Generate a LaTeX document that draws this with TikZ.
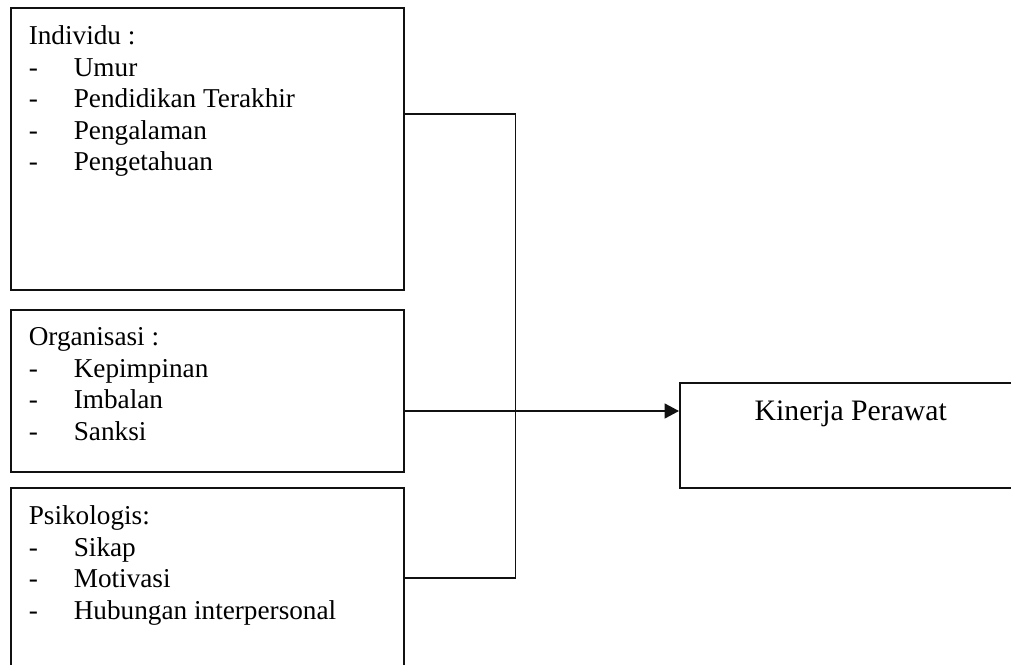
\documentclass[tikz,border=0pt]{standalone}
\usepackage{fontspec}
\setmainfont{Liberation Serif}
\usepackage{xcolor}
\usetikzlibrary{arrows.meta,positioning,calc}
\definecolor{ink}{HTML}{111111}
\newcommand{\itemline}[1]{\makebox[0.9cm][l]{-}#1}
\newcommand{\boxtext}[2]{\parbox[t][#1][t]{7.14cm}{\raggedright #2}}
\tikzset{
  listbox/.style={draw=ink,line width=0.9pt,inner sep=0.36cm,anchor=north west,
                  font=\fontsize{15.5}{17.9}\selectfont},
  resultbox/.style={draw=ink,line width=0.9pt,inner sep=0.36cm,anchor=north west,
                    font=\fontsize{16.9}{19.5}\selectfont},
  link/.style={draw=ink,line width=1pt},
  arr/.style={-{Triangle[length=0.29cm,width=0.3cm]},line width=1pt,draw=ink}
}
\begin{document}
\begin{tikzpicture}[x=1cm,y=1cm]
    \path[use as bounding box] (0,0) rectangle (20.22,-13.3);
    \clip (0,0) rectangle (20.22,-13.3);
    \node[listbox] (ind) at (0.2,-0.14)
      {\boxtext{4.92cm}{Individu :\\
        \itemline{Umur}\\
        \itemline{Pendidikan Terakhir}\\
        \itemline{Pengalaman}\\
        \itemline{Pengetahuan}}};
    \node[listbox] (org) at (0.2,-6.18)
      {\boxtext{2.52cm}{Organisasi :\\
        \itemline{Kepimpinan}\\
        \itemline{Imbalan}\\
        \itemline{Sanksi}}};
    \node[listbox] (psi) at (0.2,-9.74)
      {\boxtext{3.28cm}{Psikologis:\\
        \itemline{Sikap}\\
        \itemline{Motivasi}\\
        \itemline{Hubungan interpersonal}}};
    \node[resultbox] (kin) at (13.58,-7.64)
      {\parbox[t][1.38cm][t]{6.12cm}{\centering Kinerja Perawat}};
    \coordinate (indout) at ([yshift=-2.14cm]ind.north east);
    \coordinate (orgout) at ([yshift=-2.04cm]org.north east);
    \coordinate (psiout) at ([yshift=-1.82cm]psi.north east);
    \coordinate (joint) at ([xshift=2.22cm]indout);
    \draw[link] (indout) -- (joint) |- (psiout);
    \draw[arr] (orgout) -- (orgout -| kin.west);
  \end{tikzpicture}
\end{document}
